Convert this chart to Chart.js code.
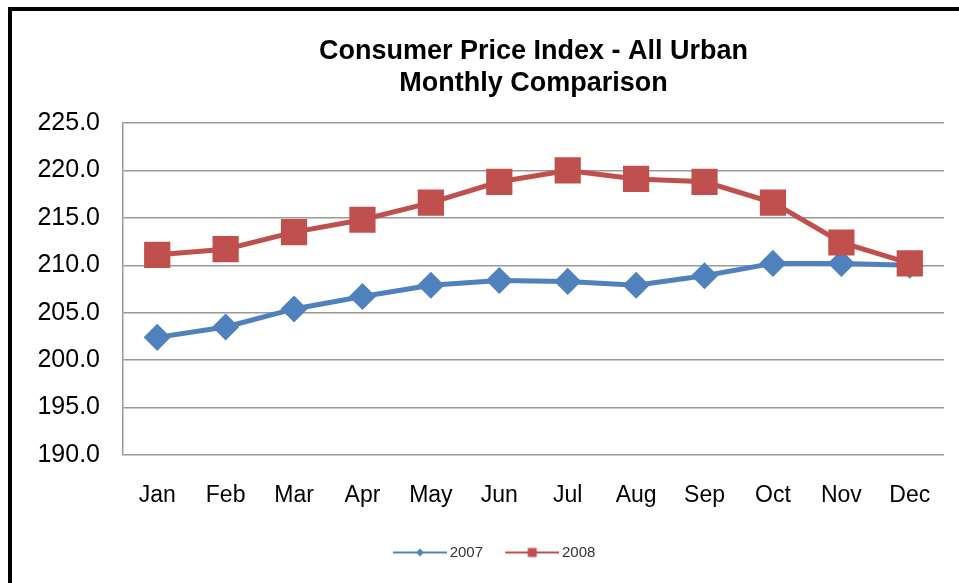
<!DOCTYPE html>
<html>
<head>
<meta charset="utf-8">
<script src="https://cdn.jsdelivr.net/npm/chart.js@4"></script>
<style>
  body { margin: 0; background: #fff; }
  #wrap { position: relative; width: 959px; height: 583px; }
  #frame { position: absolute; left: 8px; top: 7px; right: 0; bottom: 0;
           border-top: 4px solid #000; border-left: 4px solid #000; pointer-events: none; }
  canvas { position: absolute; left: 0; top: 0; }
</style>
</head>
<body>
<div id="wrap">
  <canvas id="cpi" width="959" height="583"></canvas>
  <div id="frame"></div>
</div>
<script>
var months = ["Jan", "Feb", "Mar", "Apr", "May", "Jun", "Jul", "Aug", "Sep", "Oct", "Nov", "Dec"];
var cpi2007 = [202.4, 203.5, 205.4, 206.7, 207.9, 208.4, 208.3, 207.9, 208.9, 210.2, 210.2, 210.0];
var cpi2008 = [211.1, 211.7, 213.5, 214.8, 216.6, 218.8, 220.0, 219.1, 218.8, 216.6, 212.4, 210.2];
var yTicks = [190, 195, 200, 205, 210, 215, 220, 225];

var blue = "#4F81BD";
var red = "#C0504D";
var font = "'Liberation Sans', Arial, sans-serif";
var padLeft = 35;
var plotLeft = 123;
var plotBottom = 455;
var padBottom = 13;

// little line + marker pictures for the legend (blank strip on the left nudges the line right)
function legendIcon(color, shape) {
    var c = document.createElement("canvas");
    c.width = 68;
    c.height = 12;
    var g = c.getContext("2d");
    g.strokeStyle = color;
    g.fillStyle = color;
    g.lineWidth = 2;
    g.beginPath();
    g.moveTo(14, 6);
    g.lineTo(68, 6);
    g.stroke();
    g.beginPath();
    if (shape === "diamond") {
        g.moveTo(41, 2); g.lineTo(45, 6); g.lineTo(41, 10); g.lineTo(37, 6);
    } else {
        g.rect(36.5, 1.5, 9, 9);
    }
    g.fill();
    return c;
}
var icons = [legendIcon(blue, "diamond"), legendIcon(red, "square")];

var ctx = document.getElementById("cpi").getContext("2d");
var myChart = new Chart(ctx, {
    type: "line",
    data: {
        labels: months,
        datasets: [
            {
                label: "2007",
                data: cpi2007,
                borderColor: blue,
                backgroundColor: blue,
                borderWidth: 5,
                pointStyle: "rectRot",
                pointRadius: 10,
                pointHoverRadius: 10,
                tension: 0,
                order: 1,
            },
            {
                label: "2008",
                data: cpi2008,
                borderColor: red,
                backgroundColor: red,
                borderWidth: 5,
                pointStyle: "rect",
                pointRadius: 15,
                pointHoverRadius: 15,
                tension: 0,
                order: 0,
            },
        ],
    },
    options: {
        responsive: false,
        animation: false,
        layout: { autoPadding: false, padding: { left: padLeft, right: 15, top: 0, bottom: padBottom } },
        plugins: {
            title: {
                display: true,
                fullSize: false,
                text: ["Consumer Price Index - All Urban", "Monthly Comparison"],
                color: "#000",
                font: { family: font, size: 27, weight: "bold", lineHeight: 1.185 },
                padding: { top: 36, bottom: 23 },
            },
            legend: {
                position: "bottom",
                labels: {
                    usePointStyle: true,
                    pointStyleWidth: 58.5,
                    color: "#333",
                    font: { family: font, size: 15 },
                    padding: 13,
                    generateLabels: function (chart) {
                        return chart.data.datasets.map(function (ds, i) {
                            return {
                                text: ds.label,
                                fillStyle: ds.borderColor,
                                strokeStyle: ds.borderColor,
                                lineWidth: 0,
                                pointStyle: icons[i],
                                hidden: false,
                                datasetIndex: i,
                                fontColor: "#333",
                            };
                        });
                    },
                },
            },
            tooltip: { enabled: false },
        },
        scales: {
            x: {
                offset: true,
                grid: { display: false, drawTicks: false },
                border: { display: false },
                ticks: {
                    color: "#000",
                    font: { family: font, size: 23, lineHeight: 3.04 },
                    padding: 6,
                    maxRotation: 0,
                },
                afterFit: function (s) {
                    var lg = s.chart.legend;
                    var lh = lg && lg.height ? lg.height : 37;
                    s.height = 583 - padBottom - lh - plotBottom;
                },
            },
            y: {
                min: 190,
                max: 225,
                afterBuildTicks: function (s) {
                    s.ticks = yTicks.map(function (v) { return { value: v }; });
                },
                grid: { color: "#999", lineWidth: 1.5, drawTicks: false },
                border: { color: "#999", width: 1.5 },
                ticks: {
                    color: "#000",
                    font: { family: font, size: 25 },
                    padding: 23,
                    callback: function (v) { return Number(v).toFixed(1); },
                },
                afterFit: function (s) { s.width = plotLeft - padLeft; },
            },
        },
    },
});
</script>
</body>
</html>
